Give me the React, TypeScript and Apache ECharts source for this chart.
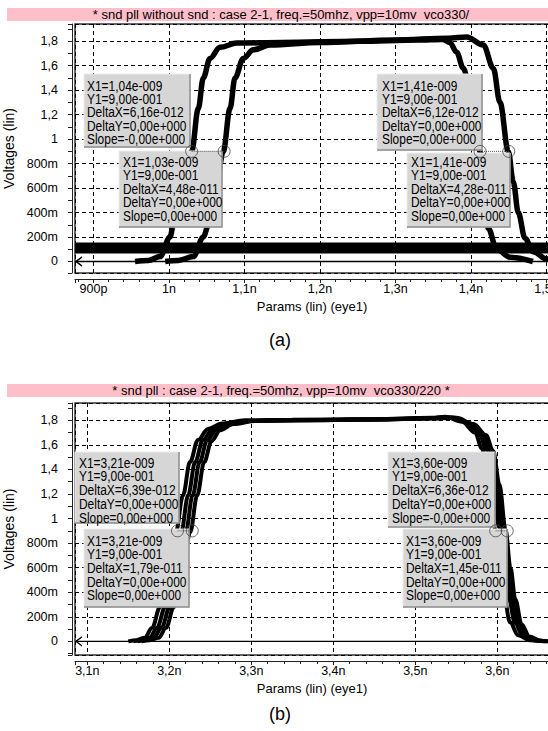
import React, { useEffect, useRef } from 'react';
import * as echarts from 'echarts';

// ---------- texts ----------
const titleA = '* snd pll without snd : case 2-1, freq.=50mhz, vpp=10mv  vco330/';
const titleB = '* snd pll : case 2-1, freq.=50mhz, vpp=10mv  vco330/220 *';
const yAxisTitle = 'Voltages (lin)';
const xAxisTitle = 'Params (lin) (eye1)';
const captionA = '(a)';
const captionB = '(b)';

// ---------- panel (a) data : [time ns, volts] ----------
const aRange = [0.8755, 1.5033];
const aYRange = [-0.094, 1.941];
const aTraceEarly = [
  [0.955, 0], [0.9726, 0.008], [0.9881, 0.04], [1.0013, 0.2], [1.0057, 0.29], [1.0189, 0.68],
  [1.030, 0.9], [1.0388, 1.25], [1.0454, 1.5], [1.0543, 1.66], [1.0675, 1.75], [1.0897, 1.785],
  [1.15, 1.79], [1.25, 1.80], [1.33, 1.81], [1.3626, 1.815], [1.372, 1.79], [1.381, 1.71],
  [1.3898, 1.58], [1.403, 1.25], [1.412, 0.9], [1.4229, 0.27], [1.434, 0.10], [1.4517, 0.035], [1.482, 0],
];
const aTraceLate = [
  [0.995, 0], [1.0123, 0.008], [1.0322, 0.04], [1.0454, 0.2], [1.052, 0.29], [1.0632, 0.65],
  [1.0719, 0.9], [1.0808, 1.25], [1.0874, 1.5], [1.0984, 1.66], [1.1117, 1.73], [1.1338, 1.77],
  [1.2, 1.79], [1.3, 1.81], [1.37, 1.825], [1.3943, 1.835], [1.4163, 1.77], [1.4295, 1.58],
  [1.4384, 1.30], [1.4494, 0.9], [1.456, 0.65], [1.4626, 0.40], [1.4715, 0.19], [1.4825, 0.08],
  [1.5003, 0.02], [1.52, 0],
];
const aBand = [[0.8755, 0.11], [1.5033, 0.11]];
const aZero = [[0.8755, 0], [1.5033, 0]];
const aMarkLeft = [[1.030, 0.9], [1.073, 0.9]];
const aMarkRight = [[1.412, 0.9], [1.450, 0.9]];

// ---------- panel (b) data ----------
const bRange = [3.085, 3.663];
const bYRange = [-0.111, 1.941];
const bTraceL = [
  [3.150, 0], [3.160, 0.01], [3.170, 0.03], [3.179, 0.11], [3.1887, 0.28], [3.1984, 0.54], [3.208, 0.89],
  [3.2167, 1.19], [3.2252, 1.46], [3.235, 1.64], [3.2472, 1.73], [3.2643, 1.775], [3.2923, 1.80],
  [3.35, 1.805], [3.45, 1.81], [3.52, 1.82], [3.5362, 1.83], [3.557, 1.79], [3.5728, 1.70],
  [3.5813, 1.57], [3.5887, 1.31], [3.596, 0.94], [3.6021, 0.62], [3.6082, 0.36], [3.6155, 0.155],
  [3.6253, 0.05], [3.64, 0.01], [3.658, 0],
];
const bTraceM = [
  [3.156, 0], [3.166, 0.01], [3.176, 0.03], [3.185, 0.11], [3.195, 0.28], [3.205, 0.54], [3.2145, 0.89],
  [3.223, 1.19], [3.2315, 1.46], [3.241, 1.64], [3.253, 1.73], [3.270, 1.775], [3.298, 1.795],
  [3.35, 1.80], [3.45, 1.808], [3.52, 1.818], [3.542, 1.825], [3.563, 1.78], [3.578, 1.69],
  [3.587, 1.56], [3.5945, 1.30], [3.602, 0.93], [3.608, 0.61], [3.614, 0.35], [3.6215, 0.15],
  [3.631, 0.045], [3.645, 0.008], [3.66, 0],
];
const bTraceN = [
  [3.161, 0], [3.171, 0.01], [3.181, 0.03], [3.1905, 0.11], [3.2005, 0.28], [3.2105, 0.54], [3.220, 0.89],
  [3.2285, 1.19], [3.237, 1.46], [3.246, 1.635], [3.2575, 1.725], [3.274, 1.772], [3.301, 1.795],
  [3.355, 1.80], [3.45, 1.806], [3.52, 1.816], [3.546, 1.822], [3.567, 1.775], [3.582, 1.685],
  [3.591, 1.555], [3.5985, 1.29], [3.606, 0.92], [3.612, 0.605], [3.618, 0.345], [3.6255, 0.145],
  [3.635, 0.042], [3.648, 0.007], [3.661, 0],
];
const bTraceR = [
  [3.166, 0], [3.176, 0.01], [3.187, 0.03], [3.196, 0.11], [3.2055, 0.28], [3.2155, 0.54], [3.2255, 0.89],
  [3.234, 1.19], [3.2425, 1.46], [3.2515, 1.63], [3.262, 1.72], [3.278, 1.77], [3.305, 1.795],
  [3.36, 1.80], [3.45, 1.805], [3.52, 1.815], [3.55, 1.82], [3.571, 1.77], [3.586, 1.68],
  [3.595, 1.55], [3.6025, 1.28], [3.610, 0.91], [3.616, 0.60], [3.622, 0.34], [3.6295, 0.14],
  [3.639, 0.04], [3.652, 0.006], [3.663, 0],
];
const bZero = [[3.085, 0], [3.663, 0]];
const bMarkLeft = [[3.210, 0.9], [3.228, 0.9]];
const bMarkRight = [[3.598, 0.9], [3.612, 0.9]];

// ---------- cursor read-out boxes ----------
const aBox1 = ['X1=1,04e-009', 'Y1=9,00e-001', 'DeltaX=6,16e-012', 'DeltaY=0,00e+000', 'Slope=-0,00e+000'];
const aBox2 = ['X1=1,03e-009', 'Y1=9,00e-001', 'DeltaX=4,48e-011', 'DeltaY=0,00e+000', 'Slope=0,00e+000'];
const aBox3 = ['X1=1,41e-009', 'Y1=9,00e-001', 'DeltaX=6,12e-012', 'DeltaY=0,00e+000', 'Slope=0,00e+000'];
const aBox4 = ['X1=1,41e-009', 'Y1=9,00e-001', 'DeltaX=4,28e-011', 'DeltaY=0,00e+000', 'Slope=0,00e+000'];
const bBox1 = ['X1=3,21e-009', 'Y1=9,00e-001', 'DeltaX=6,39e-012', 'DeltaY=0,00e+000', 'Slope=0,00e+000'];
const bBox2 = ['X1=3,21e-009', 'Y1=9,00e-001', 'DeltaX=1,79e-011', 'DeltaY=0,00e+000', 'Slope=0,00e+000'];
const bBox3 = ['X1=3,60e-009', 'Y1=9,00e-001', 'DeltaX=6,36e-012', 'DeltaY=0,00e+000', 'Slope=-0,00e+000'];
const bBox4 = ['X1=3,60e-009', 'Y1=9,00e-001', 'DeltaX=1,45e-011', 'DeltaY=0,00e+000', 'Slope=0,00e+000'];

const FONT = "'Liberation Sans', Arial, sans-serif";

const yFmt = (v: number) => {
  if (Math.abs(v) < 1e-9) return '0';
  if (v < 0.999) return Math.round(v * 1000) + 'm';
  return String(Math.round(v * 10) / 10).replace('.', ',');
};
const xFmt = (v: number) => {
  if (v < 0.999) return Math.round(v * 1000) + 'p';
  return String(Math.round(v * 10) / 10).replace('.', ',') + 'n';
};

function xAxisCfg(gridIndex: number, range: number[]) {
  return {
    type: 'value', gridIndex, min: range[0], max: range[1], minInterval: 0.1, maxInterval: 0.1,
    position: 'bottom', offset: 6,
    axisLine: { show: true, onZero: false, lineStyle: { color: '#222', width: 1 } },
    axisTick: { show: true, length: 4, lineStyle: { color: '#222' } },
    minorTick: { show: true, splitNumber: 5, length: 3, lineStyle: { color: '#222' } },
    axisLabel: { margin: 3, showMinLabel: false, showMaxLabel: false, formatter: xFmt, color: '#000', fontFamily: FONT, fontSize: 12.5 },
    splitLine: { show: true, lineStyle: { color: '#000', type: [4, 3], width: 1 } },
    name: xAxisTitle, nameLocation: 'middle', nameGap: 21,
    nameTextStyle: { color: '#000', fontFamily: FONT, fontSize: 13 },
  };
}
function yAxisCfg(gridIndex: number, range: number[]) {
  return {
    type: 'value', gridIndex, min: range[0], max: range[1], minInterval: 0.2, maxInterval: 0.2,
    position: 'left', offset: 3,
    axisLine: { show: true, onZero: false, lineStyle: { color: '#222', width: 1 } },
    axisTick: { show: true, length: 4, lineStyle: { color: '#222' } },
    minorTick: { show: true, splitNumber: 2, length: 4, lineStyle: { color: '#222' } },
    axisLabel: { margin: 14, showMinLabel: false, showMaxLabel: false, formatter: yFmt, color: '#000', fontFamily: FONT, fontSize: 12.5 },
    splitLine: { show: true, lineStyle: { color: '#000', type: [4, 3], width: 1 } },
    name: yAxisTitle, nameLocation: 'middle', nameRotate: 90, nameGap: 52,
    nameTextStyle: { color: '#000', fontFamily: FONT, fontSize: 14 },
  };
}

function trace(data: number[][], idx: number, width: number) {
  return {
    type: 'line', xAxisIndex: idx, yAxisIndex: idx, data, symbol: 'none', smooth: 0.35, smoothMonotone: 'x',
    lineStyle: { color: '#000', width }, z: 3,
  };
}
function zeroLine(data: number[][], idx: number) {
  return {
    type: 'line', xAxisIndex: idx, yAxisIndex: idx, data, showSymbol: true,
    symbol: (_v: any, p: any) => (p.dataIndex === 0 ? 'path://M10,0 L0,6 L10,12' : 'none'),
    symbolSize: [6, 9], symbolOffset: [4, 0],
    itemStyle: { color: 'rgba(0,0,0,0)', borderColor: '#000', borderWidth: 1.3 },
    lineStyle: { color: '#000', width: 1.3 }, z: 4,
  };
}
function markerSeries(data: number[][], idx: number) {
  return [
    {
      type: 'line', xAxisIndex: idx, yAxisIndex: idx, data, symbol: 'none',
      lineStyle: { color: '#555', width: 1, type: [1, 1] }, z: 120,
    },
    {
      type: 'scatter', xAxisIndex: idx, yAxisIndex: idx, data, symbol: 'circle', symbolSize: 12,
      itemStyle: { color: 'rgba(0,0,0,0)', borderColor: '#444', borderWidth: 1 }, z: 121,
    },
  ];
}

function box(x: number, y: number, w: number, h: number, lines: string[], tx: number, ty: number, gap: number) {
  const children: any[] = [
    { type: 'rect', shape: { x, y, width: w, height: h }, style: { fill: '#d6d6d6', stroke: '#ececec', lineWidth: 1 }, z: 100 },
    { type: 'polyline', shape: { points: [[x + w, y], [x + w, y + h], [x, y + h]] }, style: { stroke: '#8a8a8a', lineWidth: 1.5, fill: null }, z: 101 },
  ];
  lines.forEach((t, i) => {
    children.push({
      type: 'text', z: 102, x: tx, y: ty + i * gap, scaleX: 0.77,
      style: {
        text: t, x: 0, y: 0, fill: '#000', font: `15.5px ${FONT}`,
        align: 'left', verticalAlign: 'middle', textAlign: 'left', textVerticalAlign: 'middle',
      },
    });
  });
  return children;
}
function titleBar(y: number, h: number, text: string) {
  return [
    { type: 'rect', shape: { x: 7, y, width: 545, height: h }, style: { fill: '#ffbfca' }, z: 100 },
    {
      type: 'text', z: 101,
      style: {
        text, x: 281, y: y + h / 2, fill: '#000', font: `13px ${FONT}`,
        align: 'center', verticalAlign: 'middle', textAlign: 'center', textVerticalAlign: 'middle',
      },
    },
  ];
}
function caption(y: number, text: string) {
  return {
    type: 'text', z: 101,
    style: {
      text, x: 280, y, fill: '#000', font: `18px ${FONT}`,
      align: 'center', verticalAlign: 'middle', textAlign: 'center', textVerticalAlign: 'middle',
    },
  };
}

export default function App() {
  const ref = useRef<HTMLDivElement>(null);
  useEffect(() => {
    if (!ref.current) return;
    const chart = echarts.init(ref.current, null, { renderer: 'svg' });
    const gridBase = { show: true, backgroundColor: '#fff', borderColor: '#333', borderWidth: 1.5, containLabel: false, outerBoundsMode: 'none' };
    const option: any = {
      animation: false,
      backgroundColor: '#fff',
      grid: [
        { ...gridBase, left: 75, top: 24, width: 474, height: 249 },
        { ...gridBase, left: 75, top: 403, width: 474, height: 252 },
      ],
      xAxis: [xAxisCfg(0, aRange), xAxisCfg(1, bRange)],
      yAxis: [yAxisCfg(0, aYRange), yAxisCfg(1, bYRange)],
      series: [
        { ...trace(aBand, 0, 11), smooth: false },
        zeroLine(aZero, 0),
        trace(aTraceEarly, 0, 5.5),
        trace(aTraceLate, 0, 5.5),
        ...markerSeries(aMarkLeft, 0),
        ...markerSeries(aMarkRight, 0),
        zeroLine(bZero, 1),
        trace(bTraceL, 1, 4),
        trace(bTraceM, 1, 4),
        trace(bTraceN, 1, 4),
        trace(bTraceR, 1, 4),
        ...markerSeries(bMarkLeft, 1),
        ...markerSeries(bMarkRight, 1),
      ],
      graphic: [
        ...titleBar(8, 13, titleA),
        ...titleBar(384, 13, titleB),
        ...box(84, 74, 106, 73, aBox1, 87, 85, 13.3),
        ...box(119, 151, 103, 76, aBox2, 123, 161, 13.5),
        ...box(377, 74, 105, 76, aBox3, 382, 85, 13.3),
        ...box(407, 153, 103, 74, aBox4, 411, 161, 13.5),
        ...box(75, 452, 104, 71, bBox1, 79, 462, 13.8),
        ...box(84, 529, 105, 78, bBox2, 87, 540, 13.7),
        ...box(388, 452, 107, 75, bBox3, 392, 462, 13.8),
        ...box(403, 529, 104, 78, bBox4, 406, 540, 13.7),
        caption(340, captionA),
        caption(714, captionB),
      ],
    };
    chart.setOption(option);
    return () => chart.dispose();
  }, []);
  return <div ref={ref} style={{ position: 'absolute', left: 0, top: 0, width: 548, height: 731 }} />;
}
